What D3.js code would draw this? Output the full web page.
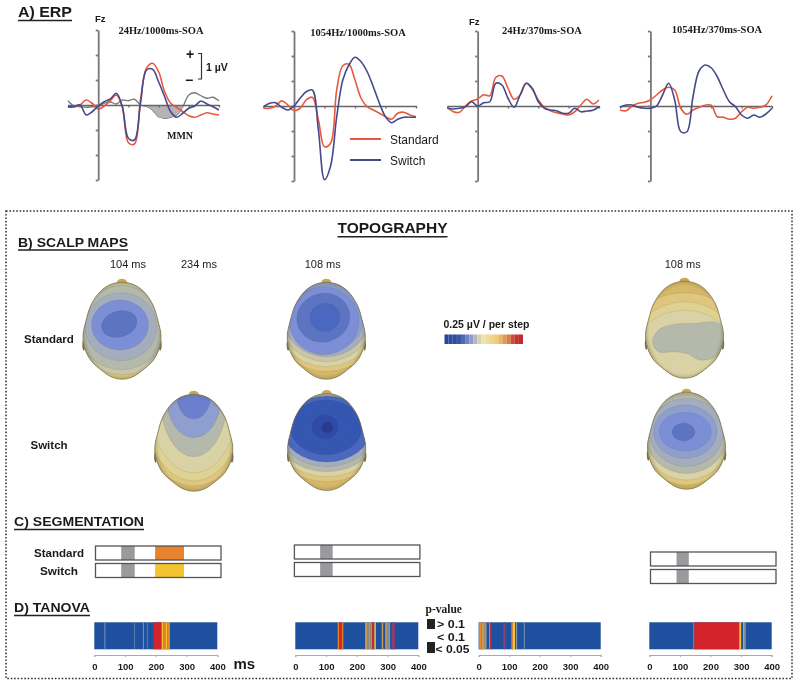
<!DOCTYPE html>
<html>
<head>
<meta charset="utf-8">
<script src="https://cdnjs.cloudflare.com/ajax/libs/d3/7.8.5/d3.min.js"></script>
<style>
html,body{margin:0;padding:0;background:#fff;}
svg{display:block;filter:blur(0.45px);}
text{font-family:"Liberation Sans",Arial,sans-serif;fill:#1a1a1a;}
.serif{font-family:"Liberation Serif","Times New Roman",serif;font-weight:bold;}
.bold{font-weight:bold;}
</style>
</head>
<body>
<svg id="chart"></svg>
<script>
//time points of the ERP curves, ms
var erpTimes = [-100,-80,-60,-40,-20,0,20,40,60,80,100,120,140,160,180,200,220,240,260,280,300,320,340,360,380,400];
var erpAxisTicks = [-100,0,100,200,300,400];
var voltTicks = [-3,-2,-1,0,1,2,3];

//ERP values at Fz, uV
var std24Long = [-.09,-.07,0,.2,.07,-.17,-.04,.17,.4,-.09,-1.51,-1.56,.2,1.47,1.67,1.33,.53,.07,-.09,-.27,-.43,-.49,-.4,-.31,-.36,-.4];
var sw24Long = [-.07,-.07,0,-.4,-.27,-.04,.13,.24,.47,-.07,-1.33,-1.4,.07,1.4,1.43,.93,.33,-.27,-.49,-.33,-.13,-.04,.16,.04,-.07,-.2];
var diff24Long = [.17,-.04,-.07,-.09,-.07,-.07,.07,.12,.04,.2,.17,.23,0,-.06,-.2,-.47,-.53,-.49,-.4,-.07,.4,.49,.37,.27,.31,.17];
var std1054Long = [-.09,-.09,0,.21,.04,-.19,-.09,.24,.35,-.56,-1.63,-1.49,.64,1.61,1.67,1.04,.31,-.03,-.16,-.29,-.43,-.53,-.29,-.25,-.36,-.43];
var sw1054Long = [-.03,.11,.13,-.05,-.16,0,.31,.57,.64,-.96,-2.95,-2.4,-.43,1.04,1.64,1.95,1.77,1.37,.77,.11,-.43,-.67,-.53,-.45,-.45,-.45];
var std24Short = [-.05,-.23,-.25,0,.2,.28,.45,.41,1.15,1.2,.71,.27,.44,.91,.67,.24,-.05,-.19,-.27,-.32,-.36,-.23,.04,.27,.08,.24];
var sw24Short = [-.09,-.12,-.09,-.03,.17,0,.13,.17,.91,.84,.31,-.05,.44,.91,.71,.17,-.09,-.16,-.19,-.29,-.29,-.09,-.23,-.2,-.17,-.03];
var std1054Short = [-.16,-.19,0,.11,.15,.24,.44,.64,.75,.64,-.09,-.33,-.16,-.05,.03,.03,-.43,-.45,-.53,-.49,-.23,-.05,-.09,-.05,.04,.41];
var sw1054Short = [-.05,.04,.04,-.05,-.09,-.09,0,.44,.91,.24,-1.03,-1.03,.37,1.4,1.64,1.53,1.17,.64,.17,-.03,-.36,-.49,-.36,-.45,-.32,-.09];

var erpTitles = ["24Hz/1000ms-SOA","1054Hz/1000ms-SOA","24Hz/370ms-SOA","1054Hz/370ms-SOA"];

//scalp map contours: dx, dy, rx, ry, rotation, potential step (outer first)
var headOutline = [[0,-48.5],[12,-46],[22,-39],[31,-25.7],[36,-10],[39,5],[37,18],[31,30],[20,40],[10,46.5],[0,48.5],[-10,46.5],[-20,40],[-31,30],[-37,18],[-39,5],[-36,-10],[-31,-25.7],[-22,-39],[-12,-46]];
var stepColours = ["#2a3a8c","#2f4aa8","#3557b4","#4a68c0","#5c74c2","#6a80cf","#7c8fd6","#8d9ecf","#a3adbe","#b5b9ac","#c8c5a8","#d8d2a4","#dfd192","#dec67e","#d6b868","#cdaa58"];

var mapStd24Long = [[0,-2,50,46,0,10],[-.5,-3,44,42,0,9],[-1,-4,36,34,0,8],[-2,-5.7,28.5,25,0,6],[-2.7,-6.7,18,13,-15,4]];
var mapSw24Long = [[0,-47.7,60,91,0,13],[0,-47.7,52,86,0,12],[0,-47.7,46,78,0,11],[0,-47.7,34,61.7,0,9],[0,-44,27,39,0,7],[0,-47.7,17,24,0,5]];
var mapStd1054Long = [[0,-16,56,57,0,13],[0,-16,52,52,0,11],[0,-16,48,47,0,10],[0,-16,44,42,0,8],[0,-14,38,35,0,7],[-2.3,-10,35,34,0,6],[-3,-13,26.7,24.3,-15,4],[-1.3,-13.3,15,14,-15,3]];
var mapSw1054Long = [[0,-13,60,52.7,0,13],[0,-13,56,47.7,0,11],[0,-13,52,42.7,0,9],[0,-13,48,37.7,0,8],[0,-13,44,33,0,3],[-.5,-14.7,36,27.5,0,2],[-.5,-13.7,30,21.7,0,2],[-.7,-13,24,15.8,0,2],[-1.7,-15,13,12,0,1],[.7,-14.7,5.5,5.5,0,0]];
var mapStd1054Short = [[0,35,70,72,0,13],[0,32,58,60,0,12],[0,19,48,38.5,0,11]];
var blobStd1054Short = [[-32,12],[-26,.3],[-11,-5.3],[9,-6.3],[32,-7.3],[39,-1.3],[38,15.3],[30.7,27],[15.7,30.3],[2.3,23.7],[-11,22],[-26,22]];
var mapSw1054Short = [[0,-8.3,50,52.7,0,13],[0,-8.3,46,47.7,0,11],[0,-8.3,42,41,0,9],[0,-8.3,37,34,0,8],[-1.3,-9,31.7,26.7,0,7],[-1.3,-9,26,19.3,0,6],[-3,-8.7,11.3,9,0,4]];

var headLabels = ["104 ms","234 ms","108 ms","108 ms"];

//colour bar, 0.25 uV per step
var barSteps = ["#29449c","#2f4ca2","#2f4ca2","#3a56a8","#4d68b2","#6f84bc","#8f9cc6","#b4b8c4","#d6d2b8","#ece2ae","#eedc9c","#efd68c","#edcc7c","#e8b868","#e09a50","#d87c44","#cc4a38","#c62f34","#bf2a30"];

//segmentation maps, ms
var segRows = ["Standard","Switch"];
var segLong24 = [[82,125,"#9a9a9e"]];
var segLong24Std = [[190,282,"#e8822c"]];
var segLong24Sw = [[190,282,"#f2c42e"]];
var segGrey1054Long = [82,122];
var segGrey1054Short = [83,122];

//TANOVA p-value stripes: start ms, end ms, class
var tanova24Long = [[33,36,"n"],[129,131,"n"],[158,161,"n"],[171,173,"n"],[192,219,"r"],[219,224,"y"],[224,232,"o"],[232,238,"y"],[238,246,"o"]];
var tanova1054Long = [[138,143,"o"],[143,152,"r"],[152,156,"o"],[227,234,"t"],[234,238,"n"],[238,245,"t"],[246,250,"o"],[250,257,"r"],[257,262,"y"],[281,286,"t"],[292,297,"o"],[297,300,"y"],[302,308,"n"],[313,324,"p"]];
var tanova24Short = [[0,4,"n"],[4,10,"o"],[10,20,"t"],[20,26,"n"],[34,38,"o"],[38,42,"r"],[81,88,"p"],[107,112,"o"],[112,119,"y"],[122,126,"n"],[148,151,"n"]];
var tanova1054Short = [[144,147,"o"],[147,294,"r"],[294,300,"y"],[307,311,"y"],[311,315,"n"]];
var tanovaTicks = [0,100,200,300,400];
var stripeColours = {n:"#7f9cb4",t:"#c79a52",o:"#e8862e",y:"#f2c535",r:"#d2242a",p:"#8c3f6e"};

var pRows = ["> 0.1","< 0.1","< 0.05"];


var svg = d3.select("svg#chart")
    .attr("width",800)
    .attr("height",686);

var defs = svg.append("defs");

var rim = defs.append("radialGradient")
    .attr("id","rim");
rim.append("stop").attr("offset","86%").attr("stop-color","#5f5a30").attr("stop-opacity",0);
rim.append("stop").attr("offset","100%").attr("stop-color","#5f5a30").attr("stop-opacity",0.4);

var addText = function(str,x,y,size,cls,anchor)
{
    return svg.append("text")
        .text(str)
        .attr("class",cls || null)
        .attr("x",x)
        .attr("y",y)
        .attr("font-size",size)
        .attr("text-anchor",anchor || "start");
}

var addHeading = function(str,x,y,size,width)
{
    addText(str,x,y,size,"bold")
        .attr("textLength",width)
        .attr("lengthAdjust","spacingAndGlyphs");
    svg.append("line")
        .attr("x1",x).attr("x2",x+width)
        .attr("y1",y+3.5).attr("y2",y+3.5)
        .attr("stroke","#222")
        .attr("stroke-width",1.5);
}


//A) ERP panels
var drawErp = function(left,right,zero,std,sw)
{
    var xScale = d3.scaleLinear().domain([-100,400]).range([left,right]);
    var yScale = d3.scaleLinear().domain([-3,3]).range([zero+75,zero-75]);

    var xAxis = d3.axisBottom(xScale).tickValues(erpAxisTicks).tickSize(2.5).tickSizeOuter(0).tickFormat("");
    var yAxis = d3.axisLeft(yScale).tickValues(voltTicks).tickSize(2.5).tickSizeOuter(0).tickFormat("");

    var g = svg.append("g");
    g.append("g")
        .attr("transform","translate(0,"+yScale(0)+")")
        .call(xAxis)
        .call(function(a){a.selectAll("path,line").attr("stroke","#666").attr("stroke-width",1.3);});
    g.append("g")
        .attr("transform","translate("+xScale(0)+",0)")
        .call(yAxis)
        .call(function(a){a.selectAll("path,line").attr("stroke","#777").attr("stroke-width",1.8);});

    var line = d3.line()
        .x(function(d,i){return xScale(erpTimes[i]);})
        .y(function(d){return yScale(d);})
        .curve(d3.curveCatmullRom.alpha(0.5));

    g.append("path").datum(std).attr("d",line)
        .attr("fill","none").attr("stroke","#e8583f").attr("stroke-width",1.6);
    g.append("path").datum(sw).attr("d",line)
        .attr("fill","none").attr("stroke","#444a8c").attr("stroke-width",1.6);

    return {x:xScale,y:yScale,g:g,line:line};
}

var erp1 = drawErp(68,219,105,std24Long,sw24Long);
drawErp(263.5,416,106,std1054Long,sw1054Long);
drawErp(447.3,599,106,std24Short,sw24Short);
drawErp(620,772,106,std1054Short,sw1054Short);

//difference wave with the MMN shading
var mmnArea = d3.area()
    .defined(function(d,i){return erpTimes[i]>=140 && erpTimes[i]<=280;})
    .x(function(d,i){return erp1.x(erpTimes[i]);})
    .y0(erp1.y(0))
    .y1(function(d){return erp1.y(Math.min(d,0));})
    .curve(d3.curveCatmullRom.alpha(0.5));
erp1.g.insert("path",":first-child").datum(diff24Long).attr("d",mmnArea)
    .attr("fill","#b4b4b8");
erp1.g.insert("path",":first-child").datum(diff24Long).attr("d",erp1.line)
    .attr("fill","none").attr("stroke","#777").attr("stroke-width",1.3);

addHeading("A) ERP",18,17,15,54);
addText("Fz",95,22,9.5,"bold");
addText("Fz",469,25,9.5,"bold");
addText(erpTitles[0],161,34,10.5,"serif","middle");
addText(erpTitles[1],358,36,10.5,"serif","middle");
addText(erpTitles[2],542,34,10.5,"serif","middle");
addText(erpTitles[3],717,33,10.5,"serif","middle");
addText("+",190,59,14,"bold","middle");
addText("\u2212",189,85,14,"bold","middle");
svg.append("path")
    .attr("d","M198,53.5H201.5V79H198")
    .attr("fill","none").attr("stroke","#333").attr("stroke-width",1.2);
addText("1 \u00b5V",206,71,10.5,"bold");
addText("MMN",180,139,10,"serif","middle");
svg.append("line").attr("x1",350).attr("x2",381).attr("y1",139).attr("y2",139)
    .attr("stroke","#e8583f").attr("stroke-width",2);
svg.append("line").attr("x1",350).attr("x2",381).attr("y1",160).attr("y2",160)
    .attr("stroke","#444a8c").attr("stroke-width",2);
addText("Standard",390,144,12);
addText("Switch",390,165,12);


//frame around the topography part
svg.append("rect")
    .attr("x",6).attr("y",211)
    .attr("width",786).attr("height",467.5)
    .attr("fill","none")
    .attr("stroke","#333")
    .attr("stroke-width",1.5)
    .attr("stroke-dasharray","1.6 1.8");

addText("TOPOGRAPHY",392.5,233,15,"bold","middle")
    .attr("textLength",110).attr("lengthAdjust","spacingAndGlyphs");
svg.append("line").attr("x1",337.5).attr("x2",447.5).attr("y1",236.8).attr("y2",236.8)
    .attr("stroke","#222").attr("stroke-width",1.5);
addHeading("B) SCALP MAPS",18,246.5,13.5,110);
addText(headLabels[0],128,268,11,null,"middle");
addText(headLabels[1],199,268,11,null,"middle");
addText(headLabels[2],322.7,268,11,null,"middle");
addText(headLabels[3],682.7,268,11,null,"middle");
addText(segRows[0],24,343,11.5,"bold");
addText(segRows[1],30.5,449,11.5,"bold");


//B) scalp maps
var headCount = 0;
var drawHead = function(cx,cy,base,bands,blob,blobStep)
{
    var id = "head"+(headCount++);
    var hx = d3.scaleLinear().domain([-39,39]).range([cx-39,cx+39]);
    var hy = d3.scaleLinear().domain([-48.5,48.5]).range([cy-48.5,cy+48.5]);
    var colour = function(s){return stepColours[s];};

    var outline = d3.line()
        .x(function(d){return hx(d[0]);})
        .y(function(d){return hy(d[1]);})
        .curve(d3.curveCatmullRomClosed.alpha(0.5));

    defs.append("clipPath").attr("id",id)
        .append("path").attr("d",outline(headOutline));

    var g = svg.append("g");
    g.append("ellipse")
        .attr("cx",hx(0)).attr("cy",hy(-48.5))
        .attr("rx",5).attr("ry",3.5)
        .attr("fill","#c9a850");
    g.selectAll("ellipse.ear")
        .data([-38.2,38.2])
        .enter()
        .append("ellipse")
        .classed("ear",true)
        .attr("cx",function(d){return hx(d);})
        .attr("cy",hy(14))
        .attr("rx",1.5).attr("ry",6)
        .attr("fill","#77704a");

    var inside = g.append("g").attr("clip-path","url(#"+id+")");
    inside.append("rect")
        .attr("x",hx(-39)).attr("y",hy(-48.5))
        .attr("width",78).attr("height",97)
        .attr("fill",colour(base));

    inside.selectAll("ellipse")
        .data(bands)
        .enter()
        .append("ellipse")
        .attr("cx",function(d){return hx(d[0]);})
        .attr("cy",function(d){return hy(d[1]);})
        .attr("rx",function(d){return hx(d[2])-hx(0);})
        .attr("ry",function(d){return hy(d[3])-hy(0);})
        .attr("transform",function(d){return "rotate("+d[4]+","+hx(d[0])+","+hy(d[1])+")";})
        .attr("fill",function(d){return colour(d[5]);})
        .attr("stroke","#55553a")
        .attr("stroke-opacity",0.25)
        .attr("stroke-width",0.5);

    if (blob) {
        inside.append("path")
            .attr("d",outline(blob))
            .attr("fill",colour(blobStep))
            .attr("stroke","#55553a")
            .attr("stroke-opacity",0.25)
            .attr("stroke-width",0.5);
    }

    inside.append("ellipse")
        .attr("cx",cx).attr("cy",cy)
        .attr("rx",41).attr("ry",51)
        .attr("fill","url(#rim)");

    g.append("path")
        .attr("d",outline(headOutline))
        .attr("fill","none")
        .attr("stroke","#77704a")
        .attr("stroke-opacity",0.7)
        .attr("stroke-width",1);
}

drawHead(122,330.7,13,mapStd24Long);
drawHead(193.8,442.7,14,mapSw24Long);
drawHead(326.3,330.7,14,mapStd1054Long);
drawHead(326.7,442,14,mapSw1054Long);
drawHead(684.5,329.7,14,mapStd1054Short,blobStd1054Short,9);
drawHead(686.5,440.7,14,mapSw1054Short);

//colour bar
var barScale = d3.scaleBand().domain(d3.range(barSteps.length)).range([444.5,523]);
svg.append("g").selectAll("rect")
    .data(barSteps)
    .enter()
    .append("rect")
    .attr("x",function(d,i){return barScale(i);})
    .attr("y",334.5)
    .attr("width",barScale.bandwidth())
    .attr("height",9.5)
    .attr("fill",function(d){return d;});
addText("0.25 \u00b5V / per step",443.5,328,10,"bold")
    .attr("textLength",86).attr("lengthAdjust","spacingAndGlyphs");


//C) segmentation
var drawSegment = function(left,top,grey,extra)
{
    var xScale = d3.scaleLinear().domain([0,400]).range([left,left+125.5]);
    var g = svg.append("g");
    var marks = [[grey[0],grey[1],"#9a9a9e"]].concat(extra || []);

    g.selectAll("rect.seg")
        .data(marks)
        .enter()
        .append("rect")
        .classed("seg",true)
        .attr("x",function(d){return xScale(d[0]);})
        .attr("y",top)
        .attr("width",function(d){return xScale(d[1])-xScale(d[0]);})
        .attr("height",14)
        .attr("fill",function(d){return d[2];});

    g.append("rect")
        .attr("x",xScale(0)).attr("y",top)
        .attr("width",xScale(400)-xScale(0)).attr("height",14)
        .attr("fill","none")
        .attr("stroke","#555")
        .attr("stroke-width",1.3);
}

addHeading("C) SEGMENTATION",14,526,13,130);
addText(segRows[0],59,557,11.5,"bold","middle").attr("textLength",50).attr("lengthAdjust","spacingAndGlyphs");
addText(segRows[1],59,575,11.5,"bold","middle").attr("textLength",38).attr("lengthAdjust","spacingAndGlyphs");
drawSegment(95.5,546,[segLong24[0][0],segLong24[0][1]],segLong24Std);
drawSegment(95.5,563.5,[segLong24[0][0],segLong24[0][1]],segLong24Sw);
drawSegment(294.4,545,segGrey1054Long);
drawSegment(294.4,562.5,segGrey1054Long);
drawSegment(650.5,552,segGrey1054Short);
drawSegment(650.5,569.5,segGrey1054Short);


//D) TANOVA
var drawTanova = function(left,right,stripes)
{
    var xScale = d3.scaleLinear().domain([0,400]).range([left,right]);
    var g = svg.append("g");

    g.append("rect")
        .attr("x",left).attr("y",622.3)
        .attr("width",right-left).attr("height",27)
        .attr("fill","#1f4f9f");

    g.selectAll("rect.stripe")
        .data(stripes)
        .enter()
        .append("rect")
        .classed("stripe",true)
        .attr("x",function(d){return xScale(d[0]);})
        .attr("y",622.3)
        .attr("width",function(d){return xScale(d[1])-xScale(d[0]);})
        .attr("height",27)
        .attr("fill",function(d){return stripeColours[d[2]];});

    g.append("g")
        .attr("transform","translate(0,655)")
        .call(d3.axisBottom(xScale).tickValues(tanovaTicks).tickSize(2).tickPadding(6))
        .call(function(a){
            a.selectAll("path,line").attr("stroke","#aaa");
            a.selectAll("text")
                .attr("font-size",9.5)
                .attr("font-weight","bold")
                .attr("font-family","Liberation Sans")
                .attr("fill","#222");
        });
}

addHeading("D) TANOVA",14,612,13,76);
drawTanova(94.3,217.3,tanova24Long);
drawTanova(295.3,418.3,tanova1054Long);
drawTanova(478.7,600.7,tanova24Short);
drawTanova(649.3,771.7,tanova1054Short);
addText("ms",233.5,669,15,"bold");

//p-value legend
addText("p-value",425.5,613,11.5,"serif");
svg.append("rect").attr("x",427).attr("y",619).attr("width",8).attr("height",10).attr("fill","#222");
svg.append("rect").attr("x",427).attr("y",642).attr("width",8).attr("height",11).attr("fill","#222");
addText(pRows[0],437,628,10.6,"bold").attr("textLength",28).attr("lengthAdjust","spacingAndGlyphs");
addText(pRows[1],437,640.5,10.6,"bold").attr("textLength",28).attr("lengthAdjust","spacingAndGlyphs");
addText(pRows[2],435.5,653,10.6,"bold").attr("textLength",34).attr("lengthAdjust","spacingAndGlyphs");
</script>
</body>
</html>
